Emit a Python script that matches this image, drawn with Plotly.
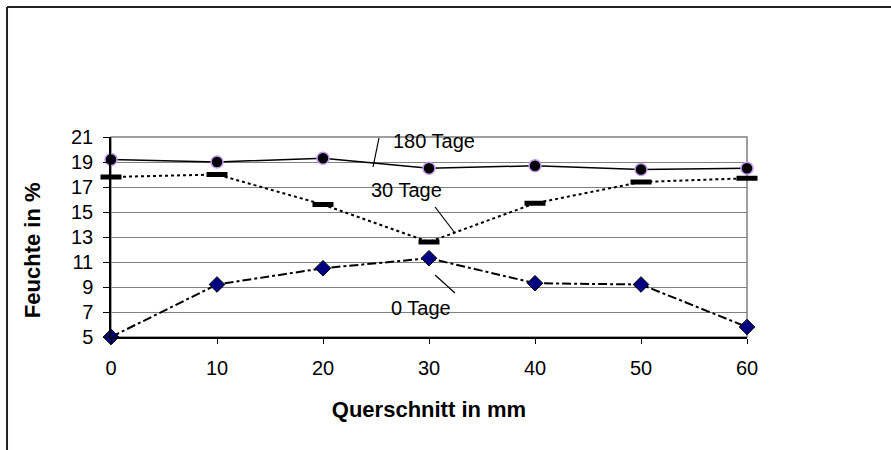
import plotly.graph_objects as go

# Cross-section positions (mm) and measured moisture (%)
querschnitt = [0, 10, 20, 30, 40, 50, 60]
feuchte_0_tage = [5.0, 9.2, 10.5, 11.3, 9.3, 9.2, 5.8]
feuchte_30_tage = [17.8, 18.0, 15.6, 12.6, 15.7, 17.4, 17.7]
feuchte_180_tage = [19.2, 19.0, 19.3, 18.5, 18.7, 18.4, 18.5]

y_ticks = [5, 7, 9, 11, 13, 15, 17, 19, 21]
x_ticks = [0, 10, 20, 30, 40, 50, 60]

FONT = "Liberation Sans, Arial, sans-serif"
LABEL_SIZE = 20
TITLE_SIZE = 22

fig = go.Figure()

fig.add_trace(go.Scatter(
    x=querschnitt, y=feuchte_0_tage, mode="lines+markers", name="0 Tage",
    line=dict(color="black", width=2, dash="dashdot"),
    marker=dict(symbol="diamond", size=12, color="#000080",
                line=dict(color="black", width=1)),
    cliponaxis=False,
))
fig.add_trace(go.Scatter(
    x=querschnitt, y=feuchte_30_tage, mode="lines+markers", name="30 Tage",
    line=dict(color="black", width=2, dash="dot"),
    marker=dict(symbol="line-ew", size=15, color="black",
                line=dict(color="black", width=5)),
    cliponaxis=False,
))
fig.add_trace(go.Scatter(
    x=querschnitt, y=feuchte_180_tage, mode="lines+markers", name="180 Tage",
    line=dict(color="black", width=1.5),
    marker=dict(symbol="circle", size=12, color="black",
                line=dict(color="#c49bf2", width=1.5)),
    cliponaxis=False,
))

shapes = [
    # gray frame of the plot area
    dict(type="rect", xref="paper", yref="paper", x0=0, y0=0, x1=1, y1=1,
         line=dict(color="#808080", width=1.5), layer="below"),
    # outer chart border (top and left edges)
    dict(type="line", xref="paper", yref="paper", x0=-0.1635, y0=1.65,
         x1=1.4, y1=1.65, line=dict(color="#222222", width=2)),
    dict(type="line", xref="paper", yref="paper", x0=-0.1635, y0=1.65,
         x1=-0.1635, y1=-0.7, line=dict(color="#222222", width=2)),
    # leader lines for the series labels
    dict(type="line", x0=25.28, y0=20.92, x1=24.72, y1=18.6,
         line=dict(color="black", width=1.2)),
    dict(type="line", x0=30.57, y0=15.4, x1=32.45, y1=13.32,
         line=dict(color="black", width=1.2)),
    dict(type="line", x0=30.57, y0=9.96, x1=32.45, y1=8.52,
         line=dict(color="black", width=1.2)),
]

annotations = [
    dict(xref="paper", yref="paper", x=0.508, y=1.045, text="180 Tage",
         showarrow=False,
         font=dict(family=FONT, size=LABEL_SIZE, color="black")),
    dict(x=27.83, y=16.76, text="30 Tage", showarrow=False,
         font=dict(family=FONT, size=LABEL_SIZE, color="black")),
    dict(x=29.25, y=7.32, text="0 Tage", showarrow=False,
         font=dict(family=FONT, size=LABEL_SIZE, color="black")),
    # y-axis title
    dict(xref="paper", yref="paper", x=-0.124, y=0.435,
         xanchor="center", yanchor="middle",
         text="<b>Feuchte in %</b>", textangle=-90, showarrow=False,
         font=dict(family=FONT, size=TITLE_SIZE, color="black")),
]

fig.update_layout(
    width=891, height=450,
    margin=dict(l=111, r=144, t=137, b=113),
    paper_bgcolor="white", plot_bgcolor="white",
    showlegend=False,
    font=dict(family=FONT, size=LABEL_SIZE, color="black"),
    shapes=shapes,
    annotations=annotations,
    xaxis=dict(
        range=[0, 60], tickvals=x_ticks, ticks="outside", ticklen=5,
        tickcolor="black", showgrid=False, zeroline=False,
        showline=True, linecolor="black", linewidth=1.5,
        tickfont=dict(family=FONT, size=LABEL_SIZE), ticklabelstandoff=7,
        title=dict(text="<b>Querschnitt in mm</b>",
                   font=dict(family=FONT, size=TITLE_SIZE), standoff=24),
    ),
    yaxis=dict(
        range=[5, 21], tickvals=y_ticks, ticks="outside", ticklen=6,
        tickcolor="black", showgrid=True, gridcolor="#808080", gridwidth=1,
        zeroline=False, showline=True, linecolor="black", linewidth=1.5,
        tickfont=dict(family=FONT, size=LABEL_SIZE), ticklabelstandoff=6,
    ),
)

fig.write_html("out.html")
